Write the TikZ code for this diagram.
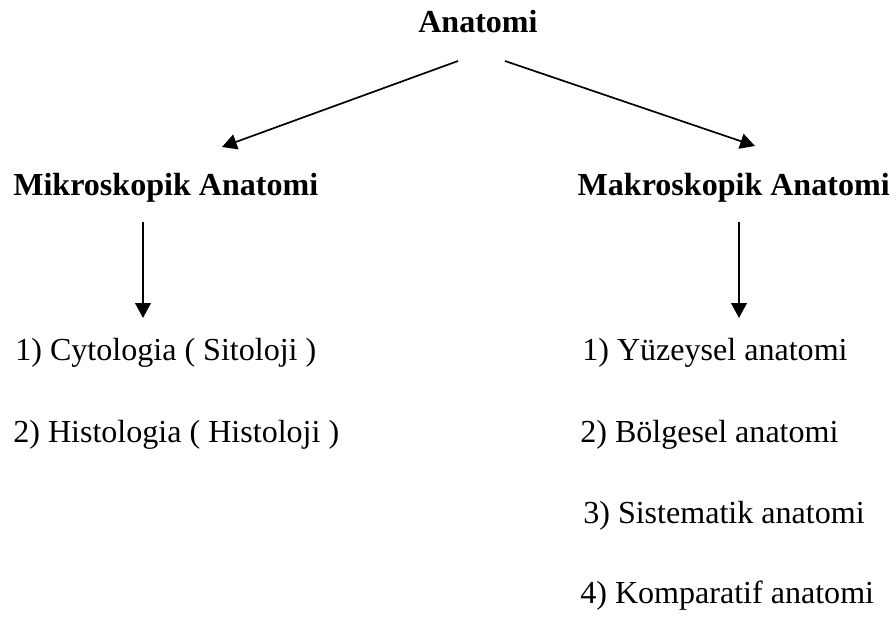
\documentclass[tikz,border=0pt]{standalone}
\usepackage{fontspec}
\setmainfont{Liberation Serif}
\usetikzlibrary{calc,arrows.meta,positioning}

\tikzset{
  lbl/.style={inner sep=0pt,anchor=base west,font=\fontsize{22.8}{27}\selectfont},
  head/.style={lbl,font=\fontsize{22.8}{27}\selectfont\bfseries},
  arr/.style={line width=1.2pt,-{Triangle[length=10.5pt,width=11pt]}}
}

\begin{document}
\begin{tikzpicture}[x=0.025cm,y=-0.025cm]

\useasboundingbox (0,0) rectangle (896,617);

%top
\node[head] at (418,33) (anat) {Anatomi};

%branches
\node[head] at (13,196) (mikro) {Mikroskopik Anatomi};
\node[head,anchor=base east] at (890,196) (makro) {Makroskopik Anatomi};

%left list
\node[lbl] at (15,360) (cyto) {1) Cytologia ( Sitoloji )};
\node[lbl] at (13,442) (histo) {2) Histologia ( Histoloji )};

%right list
\node[lbl] at (582,360) (yuz) {1) Yüzeysel anatomi};
\node[lbl] at (580,442) (bolg) {2) Bölgesel anatomi};
\node[lbl] at (583,523) (sist) {3) Sistematik anatomi};
\node[lbl] at (580,603) (komp) {4) Komparatif anatomi};

%arrows
\draw[arr] ($(anat.base west)+(40,28)$) -- ($(mikro.base west)+(209,-49)$);
\draw[arr] ($(anat.base west)+(87,28)$) -- ($(makro.base east)+(-135,-50)$);
\draw[arr] ($(mikro.base west)+(130,26)$) -- ($(cyto.base west)+(128,-42)$);
\draw[arr] ($(makro.base east)+(-151,26)$) -- ($(yuz.base west)+(157,-42)$);

\end{tikzpicture}
\end{document}
